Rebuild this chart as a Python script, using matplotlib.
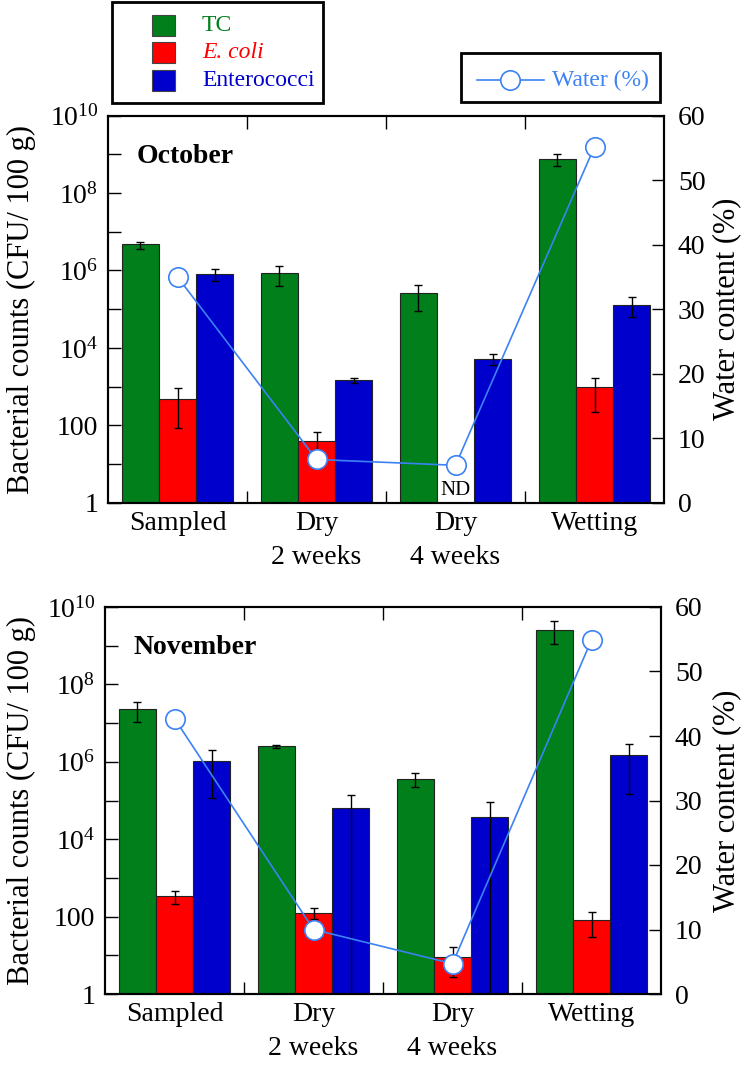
import numpy as np
import matplotlib
matplotlib.use("Agg")
import matplotlib.pyplot as plt
from matplotlib.patches import Rectangle
from matplotlib.lines import Line2D
from matplotlib.ticker import FixedLocator, FuncFormatter, NullLocator

plt.rcParams['font.family'] = ['Liberation Serif', 'DejaVu Serif']
plt.rcParams['mathtext.fontset'] = 'custom'
plt.rcParams['mathtext.rm'] = 'Liberation Serif'

# data
stages = ['Sampled', 'Dry\n2 weeks', 'Dry\n4 weeks', 'Wetting']
series = ['TC', 'E. coli', 'Enterococci']

# October (CFU/100 g), bars + error bar bounds
tc_oct = [4.8e6, 8.5e5, 2.6e5, 7.6e8]
tc_oct_hi = [5.6e6, 1.3e6, 4.3e5, 1.0e9]
tc_oct_lo = [3.5e6, 4.0e5, 9.1e4, 4.9e8]
ec_oct = [480, 39, np.nan, 960]          # nan = ND
ec_oct_hi = [910, 66, np.nan, 1660]
ec_oct_lo = [83, 23, np.nan, 220]
en_oct = [8.3e5, 1480, 5.2e3, 1.3e5]
en_oct_hi = [1.1e6, 1700, 6.8e3, 2.1e5]
en_oct_lo = [5.5e5, 1260, 3.6e3, 6.2e4]
water_oct = [35.0, 6.7, 5.8, 55.2]

# November
tc_nov = [2.3e7, 2.6e6, 3.6e5, 2.6e9]
tc_nov_hi = [3.6e7, 2.7e6, 5.0e5, 4.4e9]
tc_nov_lo = [1.05e7, 2.3e6, 2.2e5, 1.1e9]
ec_nov = [340, 122, 9.2, 80]
ec_nov_hi = [470, 163, 16, 130]
ec_nov_lo = [210, 85, 2.7, 29]
en_nov = [1.05e6, 6.3e4, 3.8e4, 1.5e6]
en_nov_hi = [2.0e6, 1.4e5, 9.0e4, 2.8e6]
en_nov_lo = [1.15e5, 1, 1, 1.5e5]
water_nov = [42.7, 10.0, 4.7, 54.9]

colors = ['#007F1A', '#FF0000', '#0000CC']
water_color = '#3C82F5'

W, H = 749, 1066
fig = plt.figure(figsize=(W / 100, H / 100), dpi=100)


def fpx(x, y):
    # pixel (from top-left) -> figure fraction
    return x / W, 1 - y / H


def panel(left, bottom, month, bars, water, nd=False):
    ax = fig.add_axes([left / W, 1 - bottom / H, 556 / W, 387 / H])
    x = np.arange(len(stages))
    bw = 0.8 / 3
    for i, (vals, hi, lo) in enumerate(bars):
        vals = np.array(vals, dtype=float)
        hi = np.array(hi, dtype=float)
        lo = np.array(lo, dtype=float)
        xs = x + (i - 1) * bw
        ok = ~np.isnan(vals)
        ax.bar(xs[ok], vals[ok], bw, color=colors[i], edgecolor='#222222',
               linewidth=0.8, zorder=2)
        ax.errorbar(xs[ok], vals[ok], yerr=[vals[ok] - lo[ok], hi[ok] - vals[ok]],
                    fmt='none', ecolor='black', elinewidth=1, capsize=3,
                    capthick=1, zorder=3)
    ax.set_yscale('log')
    ax.set_ylim(1, 1e10)
    ax.set_xlim(-0.5, 3.5)
    ax.yaxis.set_major_locator(FixedLocator(10.0 ** np.arange(0, 11)))
    ax.yaxis.set_minor_locator(NullLocator())

    def fmt(v, pos):
        e = int(round(np.log10(v)))
        if e % 2:
            return ''
        if e == 0:
            return '1'
        if e == 2:
            return '100'
        return r'$\mathregular{10^{%d}}$' % e
    ax.yaxis.set_major_formatter(FuncFormatter(fmt))
    ax.set_xticks([0.5, 1.5, 2.5])
    ax.set_xticklabels([])
    ax.set_xticks(x, stages, minor=True)
    for lab in ax.get_xticklabels(minor=True):
        lab.set_linespacing(1.45)
    ax.tick_params(axis='x', which='major', direction='in', length=9,
                   top=True, bottom=True, width=1)
    ax.tick_params(axis='x', which='minor', length=0, pad=6, labelsize=20)
    ax.tick_params(axis='y', which='major', direction='in', length=9,
                   width=1, labelsize=20, pad=7)
    for s in ax.spines.values():
        s.set_linewidth(1.5)
    ax.set_ylabel('Bacterial counts (CFU/ 100 g)', fontsize=22)
    ax.yaxis.set_label_coords((36 - left) / 556, 0.5)
    ax.text(0.052, 0.895, month, transform=ax.transAxes, fontsize=20,
            fontweight='bold', va='center', ha='left')
    if nd:
        ax.text(x[2], 1.15, 'ND', ha='center', va='bottom', fontsize=15)

    ax2 = ax.twinx()
    ax2.plot(x, water, '-o', color=water_color, lw=1.2, ms=14,
             mfc='white', mec=water_color, mew=1.2, zorder=4)
    ax2.set_ylim(0, 60)
    ax2.set_yticks(np.arange(0, 61, 10))
    ax2.tick_params(axis='y', direction='in', length=9, width=1,
                    labelsize=20, pad=10)
    ax2.set_ylabel('Water content (%)', fontsize=22)
    ax2.yaxis.set_label_coords((712 - left) / 556, 0.5)
    for s in ax2.spines.values():
        s.set_linewidth(1.5)
    return ax


panel(108, 502.7, 'October',
      [(tc_oct, tc_oct_hi, tc_oct_lo), (ec_oct, ec_oct_hi, ec_oct_lo),
       (en_oct, en_oct_hi, en_oct_lo)], water_oct, nd=True)
panel(105, 994, 'November',
      [(tc_nov, tc_nov_hi, tc_nov_lo), (ec_nov, ec_nov_hi, ec_nov_lo),
       (en_nov, en_nov_hi, en_nov_lo)], water_nov)

# legend for bacteria (left box)
x0, y0 = fpx(112, 103)
fig.add_artist(Rectangle((x0, y0), 211 / W, 101 / H, transform=fig.transFigure,
                         fill=False, edgecolor='black', linewidth=2))
for i, (name, yc) in enumerate(zip(series, [25.5, 52.5, 80])):
    sx, sy = fpx(152, yc + 10.5)
    fig.add_artist(Rectangle((sx, sy), 23 / W, 21 / H, transform=fig.transFigure,
                             facecolor=colors[i], edgecolor='#444444', linewidth=0.8))
    tx, ty = fpx(202, yc)
    fig.text(tx, ty, name, color=colors[i], fontsize=17, va='center', ha='left',
             fontstyle='italic' if name == 'E. coli' else 'normal')

# legend for water (right box)
x0, y0 = fpx(461, 102)
fig.add_artist(Rectangle((x0, y0), 199 / W, 49 / H, transform=fig.transFigure,
                         fill=False, edgecolor='black', linewidth=2))
lx0, ly = fpx(477, 80)
lx1, _ = fpx(544, 80)
mx, _ = fpx(510, 80)
fig.add_artist(Line2D([lx0, lx1], [ly, ly], transform=fig.transFigure,
                      color=water_color, lw=1.2))
fig.add_artist(Line2D([mx], [ly], transform=fig.transFigure, marker='o', ms=14,
                      mfc='white', mec=water_color, mew=1.2, color=water_color))
tx, ty = fpx(552, 80)
fig.text(tx, ty, 'Water (%)', color=water_color, fontsize=17, va='center', ha='left')

fig.savefig('out.png', dpi=100)
